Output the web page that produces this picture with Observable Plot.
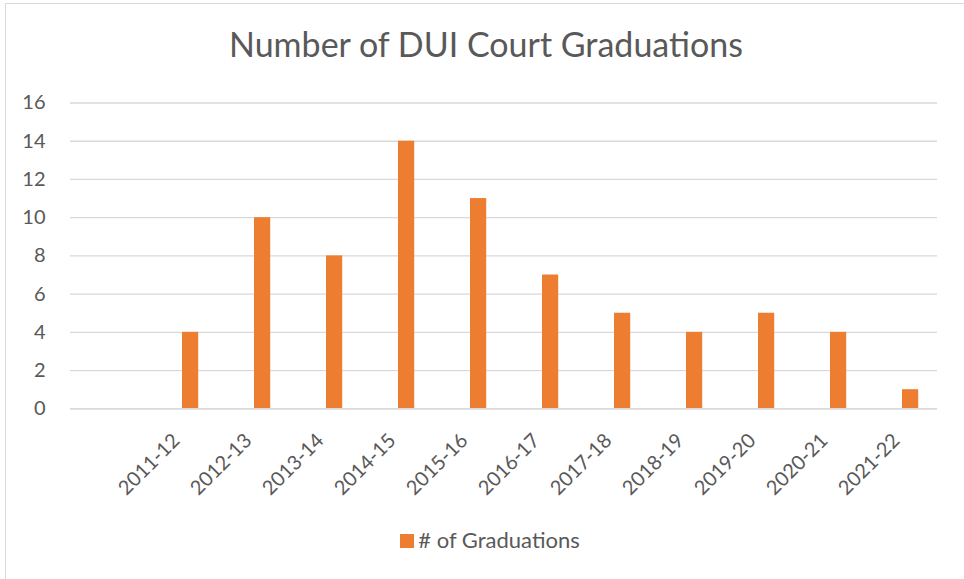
<!DOCTYPE html>
<html>
<head>
<meta charset="utf-8">
<script src="https://cdn.jsdelivr.net/npm/d3@7"></script>
<script src="https://cdn.jsdelivr.net/npm/@observablehq/plot@0.6"></script>
<style>
  html, body { margin: 0; padding: 0; background: #fff; width: 964px; height: 579px; overflow: hidden; position: relative; }
  #frame { position: absolute; left: 5px; top: 3px; width: 1000px; height: 576.5px; border: 1.5px solid #d9d9d9; box-sizing: border-box; }
  #title { position: absolute; left: 5px; width: 962px; top: 24px; text-align: center; font-family: Lato, sans-serif; font-size: 34px; line-height: 40px; color: #595959; white-space: nowrap; }
  #chart { position: absolute; left: 0; top: 80px; }
  #legend { position: absolute; left: 0; width: 980px; top: 526px; text-align: center; font-family: Lato, sans-serif; font-size: 22px; line-height: 27px; color: #595959; white-space: nowrap; }
  #legend .sw { display: inline-block; width: 14px; height: 14px; margin-right: 4px; vertical-align: baseline; }
</style>
</head>
<body>
<div id="frame"></div>
<div id="title"></div>
<div id="chart"></div>
<div id="legend"></div>
<script>
const chartTitle = "Number of DUI Court Graduations";
const seriesName = "# of Graduations";
const categories = ["2011-12", "2012-13", "2013-14", "2014-15", "2015-16", "2016-17", "2017-18", "2018-19", "2019-20", "2020-21", "2021-22"];
const graduations = [4, 10, 8, 14, 11, 7, 5, 4, 5, 4, 1];
const yTicks = [0, 2, 4, 6, 8, 10, 12, 14, 16];
const barColor = "#ED7D31";
const textColor = "#595959";
const gridColor = "#d9d9d9";

// the category axis has one empty leading slot, as in the source chart
const xDomain = ["", ...categories];
const rows = categories.map((c, i) => ({period: c, count: graduations[i]}));

document.getElementById("title").textContent = chartTitle;

const plot = Plot.plot({
  width: 964,
  height: 420,
  marginLeft: 70,
  marginRight: 27,
  marginTop: 22.5,
  marginBottom: 91.7,
  style: {fontFamily: "Lato, sans-serif", background: "transparent", overflow: "visible"},
  x: {type: "band", domain: xDomain, padding: 0, axis: null},
  y: {domain: [0, 16], label: null},
  marks: [
    Plot.gridY(yTicks, {stroke: gridColor, strokeOpacity: 1, strokeWidth: 1.3}),
    Plot.axisY(yTicks, {tickSize: 0, tickPadding: 25, fontSize: 20, fill: textColor, label: null}),
    Plot.barY(rows, {x: "period", y: "count", fill: barColor, insetLeft: 38, insetRight: 17.8}),
    Plot.ruleY([0], {stroke: gridColor, strokeWidth: 1.6}),
    Plot.text(categories, {x: d => d, frameAnchor: "bottom", rotate: -45, textAnchor: "end", lineAnchor: "bottom", dx: 0.5, dy: 33, fontSize: 20, fill: textColor})
  ]
});
document.getElementById("chart").appendChild(plot);

const legend = document.getElementById("legend");
const sw = document.createElement("span");
sw.className = "sw";
sw.style.background = barColor;
legend.appendChild(sw);
legend.appendChild(document.createTextNode(seriesName));
</script>
</body>
</html>
